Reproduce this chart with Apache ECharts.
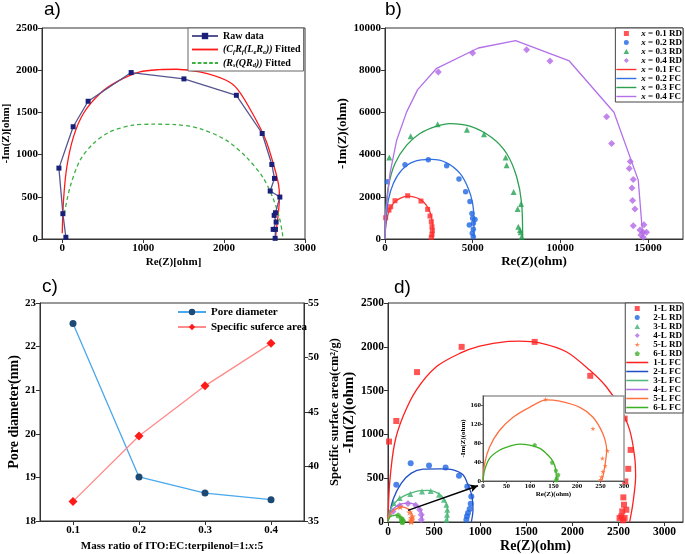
<!DOCTYPE html>
<html><head><meta charset="utf-8">
<script src="https://cdn.jsdelivr.net/npm/echarts@6/dist/echarts.min.js"></script>
<style>html,body{margin:0;padding:0;background:#fff}#c{width:685px;height:554px}</style>
</head><body><div id="c"></div>
<script>
// ---------- Panel a ----------
var aRaw = [[45,20],[8,300],[-41,840],[135,1330],[320,1632],[852,1972],[1504,1897],[2152,1703],[2471,1250],[2590,883],[2623,718],[2570,568],[2689,497],[2635,311],[2619,280],[2643,201],[2607,114],[2635,114],[2631,8]];
var aFitC = [[0,67],[16,461],[57,856],[139,1210],[262,1487],[467,1723],[672,1861],[959,1979],[1205,2007],[1410,2011],[1697,1979],[2025,1881],[2165,1775],[2352,1487],[2516,1171],[2619,856],[2672,650],[2685,500],[2670,300],[2645,100],[2635,0]];
var aFitR = [[25,300],[98,619],[221,934],[385,1132],[590,1270],[877,1349],[1123,1360],[1389,1356],[1697,1309],[2025,1171],[2270,974],[2475,737],[2598,500],[2680,264],[2721,67],[2725,0]];
var aXTicks = [0,1000,2000,3000];

// ---------- Panel b ----------
var bRD1 = [[38,1009],[228,1372],[323,1530],[570,1814],[1293,2050],[2053,1798],[2433,1404],[2566,1088],[2642,820],[2680,583],[2700,394],[2680,221],[2642,79]];
var bFC1 = [[0,0],[38,583],[190,1214],[475,1687],[855,1924],[1331,2034],[1806,1955],[2186,1766],[2471,1451],[2642,1057],[2718,583],[2737,0]];
var bRD2 = [[133,2712],[1141,3517],[2471,3753],[3517,3469],[4220,2839],[4600,2239],[4847,1782],[4961,1214],[5000,978],[5133,930],[5038,741],[4810,662],[5038,457],[4980,268],[5038,110]];
var bFC2 = [[0,0],[57,899],[190,1845],[475,2634],[950,3264],[1616,3659],[2661,3769],[3517,3611],[4277,3107],[4752,2397],[5000,1687],[5076,899],[5076,0]];
var bRD3 = [[247,3864],[1464,4873],[3004,5441],[4676,5173],[5646,4967],[6882,3864],[6939,3501],[7338,2224],[7757,1656],[7567,1419],[7604,583],[7700,426],[7738,315],[7795,110]];
var bFC3 = [[0,0],[38,1214],[190,2476],[570,3580],[1236,4447],[1996,4999],[2947,5346],[3707,5472],[4847,5346],[6083,4810],[6939,4053],[7509,2949],[7795,1687],[7852,0]];
var bRD4 = [[3042,7917],[5000,8815],[8080,8973],[9411,8437],[12642,5788],[12927,4526],[13991,3674],[13934,3343],[14162,2823],[14086,2413],[14124,1829],[14257,1419],[14162,631],[14771,678],[14543,426],[14733,315],[14922,315],[14600,189],[14733,79]];
var bFC4 = [[0,0],[38,1214],[285,3107],[665,4684],[1236,6024],[1863,7081],[2947,8090],[5323,9052],[7452,9399],[10513,8437],[13060,6008],[14448,2791],[14676,426],[14733,0]];

// ---------- Panel c ----------
var cX = ['0.1','0.2','0.3','0.4'];
var cPore = [22.53, 19.01, 18.64, 18.49];
var cArea = [36.8, 42.8, 47.4, 51.3];

// ---------- Panel d ----------
var dRD1 = [[11,918],[90,1153],[315,1711],[799,1999],[1591,2056],[2194,1669],[2567,1180],[2632,823],[2606,607],[2574,463],[2553,281],[2560,197],[2585,140],[2541,121],[2530,64],[2567,46],[2549,19],[2512,46]];
var dFC1 = [[0,0],[18,444],[72,899],[163,1203],[307,1506],[524,1772],[777,1924],[994,2007],[1283,2060],[1428,2064],[1645,2045],[1934,1943],[2187,1734],[2368,1544],[2512,1317],[2621,1051],[2675,747],[2686,520],[2657,216],[2621,0]];
var dRD2 = [[90,425],[246,672],[445,645],[625,622],[770,527],[860,406],[904,292],[897,209],[886,148],[868,102],[857,65],[850,27]];
var dFC2 = [[0,0],[54,254],[145,444],[253,558],[380,603],[560,607],[705,596],[813,539],[868,425],[911,292],[922,140],[904,0]];
var dRD3 = [[18,102],[61,216],[127,273],[242,319],[369,349],[463,353],[553,311],[607,254],[633,197],[643,140],[640,83],[633,27]];
var dFC3 = [[0,0],[18,121],[72,216],[163,292],[307,349],[434,360],[542,330],[615,254],[647,140],[647,0]];
var dRD4 = [[54,121],[127,186],[217,212],[300,190],[343,140],[361,83],[361,27]];
var dFC4 = [[0,0],[25,102],[90,178],[199,216],[289,205],[343,159],[372,83],[372,0]];
var dRD5 = [[133,173],[234,111],[265,64],[254,48],[260,32],[255,20],[252,9],[250,3]];
var dFC5 = [[0,0],[3.5,37],[14,72],[35,107],[64,135],[99,156],[135,172],[163,169],[206,156],[234,135],[255,100],[263,65],[259,30],[255,9],[252,0]];
var dRD6 = [[110,76],[147,39],[155,22],[160,13],[157,6],[156,2]];
var dFC6 = [[0,0],[3.5,23],[14,48],[35,65],[57,74],[78,78],[99,76],[121,69],[138,55],[149,41],[155,23],[156,0]];
var dArrow = [[217,133],[976,414]];

var FONT = "'Liberation Serif','Times New Roman',serif";
var STAR = 'path://M50,0 L61,35 L98,35 L68,57 L79,91 L50,70 L21,91 L32,57 L2,35 L39,35 Z';
var PENT = 'path://M50,0 L98,35 L79,91 L21,91 L2,35 Z';
var SQ = 'path://M0,0h10v10h-10z';
var TRI = 'path://M5,0L10,9L0,9Z';
var DIA = 'path://M5,0L10,5L5,10L0,5Z';
var DOT = 'path://M5,0A5,5 0 1 1 4.99,0Z';
var LINE = 'path://M0,0h100v7h-100z';
var DASH = 'path://M0,0h14v7h-14zM22,0h14v7h-14zM44,0h14v7h-14zM66,0h14v7h-14zM88,0h12v7h-12z';

function merge(a,b){var o={};for(var k in a){o[k]=a[k];}for(var k2 in b){if(b[k2]&&typeof b[k2]==='object'&&!Array.isArray(b[k2])&&a[k2]&&typeof a[k2]==='object'){o[k2]=merge(a[k2],b[k2]);}else{o[k2]=b[k2];}}return o;}
function ax(extra){
  var base={
    nameLocation:'middle',
    axisLine:{show:true,onZero:false,lineStyle:{color:'#333',width:1}},
    axisTick:{show:true,inside:false,length:4,lineStyle:{color:'#333'}},
    axisLabel:{color:'#000',fontFamily:FONT,fontWeight:'bold',fontSize:11,margin:4,formatter:function(v){return String(v);}},
    splitLine:{show:false},
    nameTextStyle:{color:'#000',fontFamily:FONT,fontWeight:'bold',fontSize:11}
  };
  return merge(base,extra);
}
function gridBox(l,t,w,h,extra){return merge({left:l,top:t,width:w,height:h,show:true,borderColor:'#333',borderWidth:1,backgroundColor:'transparent'},extra||{});}

var leg = {fontFamily:FONT,fontWeight:'bold',color:'#000'};
function li(name,icon){return {name:name,icon:icon};}

var option = {
  animation:false,
  backgroundColor:'#fff',
  title:[
    {text:'a)',left:44,top:0,padding:0,textStyle:{fontFamily:"'Liberation Sans',Arial,sans-serif",fontWeight:'normal',fontSize:19,color:'#000'}},
    {text:'b)',left:385,top:0,padding:0,textStyle:{fontFamily:"'Liberation Sans',Arial,sans-serif",fontWeight:'normal',fontSize:19,color:'#000'}},
    {text:'c)',left:42,top:277,padding:0,textStyle:{fontFamily:"'Liberation Sans',Arial,sans-serif",fontWeight:'normal',fontSize:19,color:'#000'}},
    {text:'d)',left:394,top:278,padding:0,textStyle:{fontFamily:"'Liberation Sans',Arial,sans-serif",fontWeight:'normal',fontSize:19,color:'#000'}}
  ],
  grid:[
    gridBox(42,28,263,211),
    gridBox(385,28,298,211),
    gridBox(40,303,264,218),
    gridBox(388,303,295,219),
    gridBox(483,396,141,85,{z:5,backgroundColor:'#fff',borderColor:'#999',borderWidth:1.5})
  ],
  xAxis:[
    ax({gridIndex:0,type:'value',min:-250,max:3000,name:'Re(Z)[ohm]',nameGap:18,
        axisLabel:{customValues:aXTicks},axisTick:{customValues:aXTicks}}),
    ax({gridIndex:1,type:'value',min:0,max:17000,interval:5000,name:'Re(Z)(ohm)',nameGap:14,
        axisLabel:{showMaxLabel:false},nameTextStyle:{fontSize:13}}),
    ax({gridIndex:2,type:'category',data:cX,boundaryGap:true,name:'Mass ratio of ITO:EC:terpilenol=1:{i|x}:5',nameGap:20,
        axisTick:{alignWithLabel:true},
        nameTextStyle:{fontSize:11,rich:{i:{fontFamily:FONT,fontWeight:'bold',fontStyle:'italic',fontSize:11,color:'#000'}}}}),
    ax({gridIndex:3,type:'value',min:0,max:3200,interval:500,name:'Re(Z)(ohm)',nameGap:16,
        axisLabel:{showMaxLabel:false,fontSize:11.5},nameTextStyle:{fontSize:14}}),
    ax({gridIndex:4,type:'value',min:0,max:300,interval:50,name:'Re(Z)(ohm)',nameGap:7,z:6,
        axisLine:{lineStyle:{color:'#555'}},axisTick:{length:2,lineStyle:{color:'#555'}},
        axisLabel:{fontSize:7,margin:2},nameTextStyle:{fontSize:7}})
  ],
  yAxis:[
    ax({gridIndex:0,type:'value',min:0,max:2500,interval:500,name:'-Im(Z)[ohm]',nameGap:28,nameRotate:90}),
    ax({gridIndex:1,type:'value',min:0,max:10000,interval:2000,name:'-Im(Z)(ohm)',nameGap:29,nameRotate:90,nameTextStyle:{fontSize:13}}),
    ax({gridIndex:2,type:'value',min:18,max:23,interval:1,name:'Pore diameter(nm)',nameGap:19,nameRotate:90,
        nameTextStyle:{fontSize:14}}),
    ax({gridIndex:2,type:'value',position:'right',min:35,max:55,interval:5,name:'Specific surface area(cm²/g)',nameGap:24,nameRotate:90,
        nameTextStyle:{fontSize:12.5}}),
    ax({gridIndex:3,type:'value',min:0,max:2500,interval:500,name:'-Im(Z)(ohm)',nameGap:26,nameRotate:90,
        axisLabel:{fontSize:11.5},nameTextStyle:{fontSize:15}}),
    ax({gridIndex:4,type:'value',min:0,max:180,interval:40,name:'-Im(Z)(ohm)',nameGap:11,nameRotate:90,z:6,
        axisLine:{lineStyle:{color:'#555'}},axisTick:{length:2,lineStyle:{color:'#555'}},
        axisLabel:{fontSize:7,margin:2,showMaxLabel:false},nameTextStyle:{fontSize:7}})
  ],
  legend:[
    {data:['Raw data',li('fitC',LINE),li('fitR',DASH)],left:188,top:28,orient:'vertical',itemWidth:26,itemHeight:8,itemGap:1.5,
     padding:[2,3,2,3],borderColor:'#666',borderWidth:1,backgroundColor:'#fff',
     textStyle:merge(leg,{fontSize:10,lineHeight:12,rich:{
       i:{fontFamily:FONT,fontWeight:'bold',fontStyle:'italic',fontSize:10,lineHeight:12,color:'#000'},
       s:{fontFamily:FONT,fontWeight:'bold',fontStyle:'italic',fontSize:6.5,lineHeight:8,verticalAlign:'bottom',color:'#000'}}}),
     formatter:function(n){
       if(n==='fitC') return '{i|(C}{s|f}{i|R}{s|f}{i|(L}{s|e}{i|R}{s|e}{i|))} Fitted';
       if(n==='fitR') return '{i|(R}{s|s}{i|(QR}{s|d}{i|))} Fitted';
       return n;}},
    {data:[li('x = 0.1 RD',SQ),li('x = 0.2 RD',DOT),li('x = 0.3 RD',TRI),li('x = 0.4 RD',DIA),
           li('x = 0.1 FC',LINE),li('x = 0.2 FC',LINE),li('x = 0.3 FC',LINE),li('x = 0.4 FC',LINE)],
     right:2,top:28,orient:'vertical',itemWidth:20,itemHeight:5,itemGap:0,padding:[1,1,1,1],
     borderColor:'#444',borderWidth:1,backgroundColor:'#fff',
     textStyle:merge(leg,{fontSize:9,lineHeight:8.4,rich:{i:{fontFamily:FONT,fontWeight:'bold',fontStyle:'italic',fontSize:9,lineHeight:8.4,color:'#000'}}}),
     formatter:function(n){return '{i|x}'+n.slice(1);}},
    {data:['Pore diameter','Specific suferce area'],left:177,top:306,orient:'vertical',itemWidth:28,itemHeight:8,itemGap:3,padding:0,
     textStyle:merge(leg,{fontSize:11,lineHeight:12})},
    {data:[li('1-L RD',SQ),li('2-L RD',DOT),li('3-L RD',TRI),li('4-L RD',DIA),li('5-L RD',STAR),li('6-L RD',PENT),
           li('1-L FC',LINE),li('2-L FC',LINE),li('3-L FC',LINE),li('4-L FC',LINE),li('5-L FC',LINE),li('6-L FC',LINE)],
     right:2,top:303,orient:'vertical',itemWidth:22,itemHeight:5,itemGap:0,padding:[1,1,1,1],
     borderColor:'#444',borderWidth:1,backgroundColor:'#fff',
     textStyle:merge(leg,{fontSize:9,lineHeight:8.2})}
  ],
  series:[]
};

function sc(name,data,xi,yi,sym,size,color,extra){
  return merge({name:name,type:'scatter',xAxisIndex:xi,yAxisIndex:yi,data:data,symbol:sym,symbolSize:size,itemStyle:{color:color}},extra||{});
}
function ln(name,data,xi,yi,color,extra){
  return merge({name:name,type:'line',xAxisIndex:xi,yAxisIndex:yi,data:data,symbol:'none',smooth:false,lineStyle:{color:color,width:1.3},itemStyle:{color:color}},extra||{});
}

var S = option.series;
// a
S.push(ln('fitC',aFitC,0,0,'#ff1a1a',{smooth:0.3}));
S.push(ln('fitR',aFitR,0,0,'#3cb043',{smooth:0.3,lineStyle:{type:[4,3]}}));
S.push({name:'Raw data',type:'line',xAxisIndex:0,yAxisIndex:0,data:aRaw,symbol:'rect',symbolSize:5,
  lineStyle:{color:'#55558f',width:1.3},itemStyle:{color:'#1a1f7a'}});
// b
S.push(sc('x = 0.1 RD',bRD1,1,1,'rect',5,'#ff2a2a'));
S.push(sc('x = 0.2 RD',bRD2,1,1,'circle',5.5,'#1f66e5'));
S.push(sc('x = 0.3 RD',bRD3,1,1,'triangle',6,'#22a050'));
S.push(sc('x = 0.4 RD',bRD4,1,1,'diamond',7,'#b266e6'));
S.push(ln('x = 0.1 FC',bFC1,1,1,'#ff3030',{smooth:0.3}));
S.push(ln('x = 0.2 FC',bFC2,1,1,'#2f6fe0',{smooth:0.3}));
S.push(ln('x = 0.3 FC',bFC3,1,1,'#2aa050',{smooth:0.3}));
S.push(ln('x = 0.4 FC',bFC4,1,1,'#b370e8'));
// c
S.push({name:'Pore diameter',type:'line',xAxisIndex:2,yAxisIndex:2,data:cPore,symbol:'circle',symbolSize:7,
  lineStyle:{color:'#49a7ec',width:1.3},itemStyle:{color:'#1c4a75'}});
S.push({name:'Specific suferce area',type:'line',xAxisIndex:2,yAxisIndex:3,data:cArea,symbol:'diamond',symbolSize:9,
  lineStyle:{color:'#ff8a8a',width:1.3},itemStyle:{color:'#ff1a1a'}});
// d
S.push(ln('1-L FC',dFC1,3,4,'#ff2020',{smooth:0.3}));
S.push(ln('2-L FC',dFC2,3,4,'#2050c8',{smooth:0.3}));
S.push(ln('3-L FC',dFC3,3,4,'#50b878',{smooth:0.3}));
S.push(ln('4-L FC',dFC4,3,4,'#b070e0',{smooth:0.3}));
S.push(ln('5-L FC',dFC5,3,4,'#ff7040',{smooth:0.3}));
S.push(ln('6-L FC',dFC6,3,4,'#3cb024',{smooth:0.3}));
S.push(sc('1-L RD',dRD1,3,4,'rect',6,'#ff2a2a'));
S.push(sc('2-L RD',dRD2,3,4,'circle',6,'#1f66e5'));
S.push(sc('3-L RD',dRD3,3,4,'triangle',6,'#3cb371'));
S.push(sc('4-L RD',dRD4,3,4,'diamond',7,'#b06ee8'));
S.push(sc('5-L RD',dRD5,3,4,STAR,7,'#ff6a30'));
S.push(sc('6-L RD',dRD6,3,4,PENT,6,'#44b030',{
  markLine:{silent:true,symbol:['none','arrow'],symbolSize:[6,8],animation:false,
    lineStyle:{color:'#000',width:1.5,type:'solid'},label:{show:false},
    data:[[{coord:dArrow[0]},{coord:dArrow[1]}]]}}));
// inset
S.push(ln('5-L FC',dFC5,4,5,'#ff7040',{smooth:0.3,z:6}));
S.push(ln('6-L FC',dFC6,4,5,'#3cb024',{smooth:0.3,z:6}));
S.push(sc('5-L RD',dRD5,4,5,STAR,5,'#ff6a30',{z:6}));
S.push(sc('6-L RD',dRD6,4,5,PENT,4.5,'#44b030',{z:6}));

var chart = echarts.init(document.getElementById('c'),null,{renderer:'canvas'});
chart.setOption(option);
</script>
</body></html>
